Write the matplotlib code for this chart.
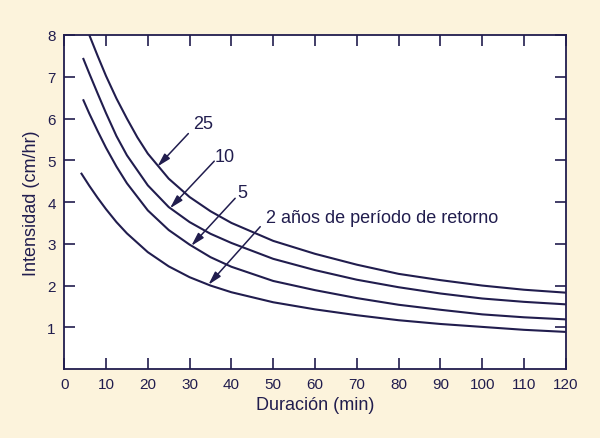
import matplotlib.pyplot as plt

# Curvas intensidad-duración-frecuencia
dur_25 = [6, 8, 10, 12.5, 15, 17.5, 20, 25, 30, 35, 40, 50, 60, 70, 80, 90, 100, 110, 120]
int_25 = [8.0, 7.5, 7.02, 6.48, 6.0, 5.55, 5.16, 4.56, 4.12, 3.78, 3.5, 3.07, 2.76, 2.5, 2.28, 2.13, 2.0, 1.9, 1.83]

dur_10 = [4.5, 6, 8, 10, 12.5, 15, 20, 25, 30, 35, 40, 50, 60, 70, 80, 90, 100, 110, 120]
int_10 = [7.45, 7.08, 6.6, 6.13, 5.58, 5.12, 4.4, 3.88, 3.52, 3.24, 3.02, 2.64, 2.37, 2.14, 1.96, 1.81, 1.69, 1.61, 1.55]

dur_5 = [4.5, 6, 8, 10, 12.5, 15, 20, 25, 30, 35, 40, 50, 60, 70, 80, 90, 100, 110, 120]
int_5 = [6.46, 6.12, 5.7, 5.3, 4.85, 4.45, 3.8, 3.33, 2.98, 2.68, 2.45, 2.11, 1.89, 1.7, 1.54, 1.42, 1.31, 1.24, 1.19]

dur_2 = [4, 6, 8, 10, 12.5, 15, 20, 25, 30, 35, 40, 50, 60, 70, 80, 90, 100, 110, 120]
int_2 = [4.7, 4.39, 4.1, 3.83, 3.52, 3.25, 2.8, 2.46, 2.2, 2.0, 1.84, 1.6, 1.43, 1.29, 1.17, 1.08, 1.01, 0.94, 0.89]

# etiquetas: texto, posición del texto, inicio de la flecha, punta de la flecha
labels = ['25', '10', '5', '2 años de período de retorno']
text_pos = [(33.2, 5.88), (38.3, 5.1), (42.5, 4.24), (48.3, 3.62)]
arrow_tail = [(29.7, 5.64), (35.9, 4.98), (40.9, 4.09), (46.9, 3.41)]
arrow_tip = [(22.3, 4.85), (25.3, 3.85), (30.4, 2.95), (34.5, 2.02)]

navy = '#211d4e'
bg = '#fcf3dc'

plt.rcParams['font.family'] = ['Liberation Sans', 'DejaVu Sans']

fig = plt.figure(figsize=(6, 4.39), dpi=100, facecolor=bg)
ax = fig.add_axes([0.107, 0.157, 0.836, 0.761])
ax.set_facecolor('white')

for d, i in [(dur_25, int_25), (dur_10, int_10), (dur_5, int_5), (dur_2, int_2)]:
    ax.plot(d, i, color=navy, lw=1.5, solid_capstyle='butt', solid_joinstyle='round')

for lab, tp, tail, tip in zip(labels, text_pos, arrow_tail, arrow_tip):
    ha = 'left' if len(lab) > 2 else 'center'
    ax.text(tp[0], tp[1], lab, color=navy, fontsize=13, ha=ha, va='center')
    ax.annotate('', xy=tip, xytext=tail,
                arrowprops=dict(arrowstyle='-|>,head_length=0.8,head_width=0.22',
                                color=navy, lw=1.1, shrinkA=0, shrinkB=0))

ax.set_xlim(0, 120)
ax.set_ylim(0, 8)
ax.set_xticks(range(0, 121, 10))
ax.set_yticks(range(1, 9))
ax.tick_params(direction='in', length=8, width=1.2, color=navy, labelcolor=navy,
               labelsize=11, top=True, right=True, pad=6)
ax.tick_params(axis='x', labeltop=False)
ax.tick_params(axis='y', labelright=False)

for s in ax.spines.values():
    s.set_color(navy)
    s.set_linewidth(1.3)

ax.set_xlabel('Duración (min)', color=navy, fontsize=13, labelpad=3)
ax.set_ylabel('Intensidad (cm/hr)', color=navy, fontsize=13, labelpad=5)

fig.savefig('out.png', dpi=100, facecolor=bg)
